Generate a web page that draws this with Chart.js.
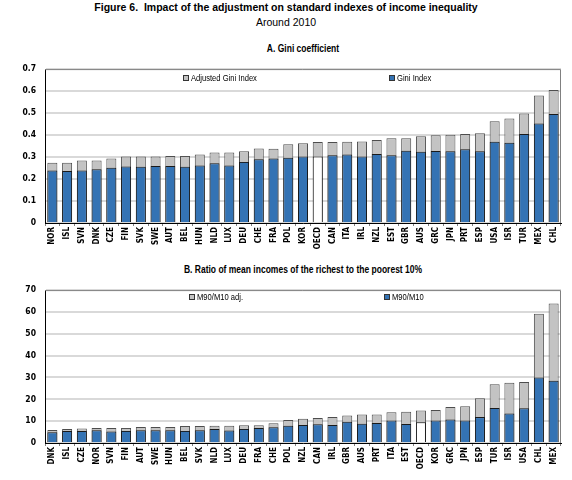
<!DOCTYPE html>
<html>
<head>
<meta charset="utf-8">
<script src="https://cdn.jsdelivr.net/npm/chart.js@4.4.0/dist/chart.umd.min.js"></script>
<style>
  body { margin: 0; width: 572px; height: 480px; background: #fff; position: relative; overflow: hidden;
         font-family: "Liberation Sans", Arial, sans-serif; color: #000; }
  .t { position: absolute; left: 0; width: 572px; text-align: center; white-space: nowrap; }
  #fig { top: 1px; font-size: 10.5px; font-weight: bold; }
  #sub { top: 16px; font-size: 10.5px; }
  /* narrow bold panel titles */
  .pt { font-weight: bold; font-size: 10.5px; left: 45px; width: 516px; transform: scaleX(0.81); transform-origin: 258px 0; }
  #ta { top: 42px; }
  #tb { top: 263px; }
  .wrap { position: absolute; left: 0; width: 572px; }
  #wa { top: 55px; height: 205px; }
  #wb { top: 276px; height: 204px; }
</style>
</head>
<body>
<div class="t" id="fig">Figure 6.&nbsp; Impact of the adjustment on standard indexes of income inequality</div>
<div class="t" id="sub">Around 2010</div>
<div class="t pt" id="ta">A. Gini coefficient</div>
<div class="t pt" id="tb">B. Ratio of mean incomes of the richest to the poorest 10%</div>
<div class="wrap" id="wa"><canvas id="chartA"></canvas></div>
<div class="wrap" id="wb"><canvas id="chartB"></canvas></div>

<script>
// Panel A: Gini coefficient
const giniCountries = ['NOR', 'ISL', 'SVN', 'DNK', 'CZE', 'FIN', 'SVK', 'SWE', 'AUT', 'BEL', 'HUN', 'NLD',
    'LUX', 'DEU', 'CHE', 'FRA', 'POL', 'KOR', 'OECD', 'CAN', 'ITA', 'IRL', 'NZL', 'EST', 'GBR', 'AUS',
    'GRC', 'JPN', 'PRT', 'ESP', 'USA', 'ISR', 'TUR', 'MEX', 'CHL'];
const giniIndex = [0.239, 0.236, 0.239, 0.244, 0.251, 0.257, 0.256, 0.259, 0.259, 0.256, 0.262, 0.272,
    0.262, 0.278, 0.290, 0.293, 0.297, 0.302, 0.303, 0.308, 0.312, 0.302, 0.314, 0.308, 0.329, 0.324,
    0.327, 0.326, 0.335, 0.326, 0.369, 0.365, 0.405, 0.453, 0.496];
const giniAdjusted = [0.274, 0.274, 0.284, 0.284, 0.293, 0.303, 0.303, 0.303, 0.305, 0.305, 0.312, 0.321,
    0.321, 0.326, 0.339, 0.338, 0.358, 0.363, 0.368, 0.368, 0.369, 0.371, 0.377, 0.386, 0.386, 0.395,
    0.399, 0.401, 0.405, 0.408, 0.463, 0.475, 0.498, 0.580, 0.605];

// Panel B: ratio M90/M10
const ratioCountries = ['DNK', 'ISL', 'CZE', 'NOR', 'SVN', 'FIN', 'AUT', 'SWE', 'HUN', 'BEL', 'SVK', 'NLD',
    'LUX', 'DEU', 'FRA', 'CHE', 'POL', 'NZL', 'CAN', 'IRL', 'GBR', 'AUS', 'PRT', 'ITA', 'EST', 'OECD',
    'KOR', 'GRC', 'JPN', 'ESP', 'TUR', 'ISR', 'USA', 'CHL', 'MEX'];
const ratioIndex = [4.95, 5.55, 5.55, 5.85, 5.25, 5.55, 5.85, 5.85, 5.85, 5.55, 5.85, 6.45,
    5.7, 6.45, 6.9, 7.2, 7.9, 8.25, 8.55, 8.25, 9.75, 8.85, 9.15, 10.35, 8.7, 9.45,
    10.35, 10.8, 10.35, 11.85, 16.05, 13.5, 15.9, 30.0, 28.5];
const ratioAdjusted = [6.0, 6.45, 6.6, 6.9, 6.9, 6.9, 7.35, 7.35, 7.35, 7.8, 7.8, 7.95,
    7.95, 8.1, 8.1, 9.0, 10.55, 11.1, 11.4, 11.85, 12.6, 13.05, 13.05, 14.1, 14.25, 14.85,
    15.15, 16.5, 16.8, 20.5, 26.85, 27.6, 27.9, 59.2, 63.9];

const BLUE = '#3473b4';
const GREY = '#c3c3c3';
const TICKFONT = '"DejaVu Sans Condensed", "Liberation Sans", sans-serif';

// draws the legend inside the plot area and the grey frame on top/right
const framePlugin = {
    id: 'frameAndLegend',
    afterDraw(chart, args, opts) {
        const { ctx, chartArea } = chart;
        ctx.save();
        ctx.strokeStyle = '#808080';
        ctx.lineWidth = 1;
        ctx.beginPath();
        ctx.moveTo(chartArea.left, chartArea.top + 0.5);
        ctx.lineTo(chartArea.right - 0.5, chartArea.top + 0.5);
        ctx.lineTo(chartArea.right - 0.5, chartArea.bottom);
        ctx.stroke();

        (opts.items || []).forEach(it => {
            const ds = chart.data.datasets[it.ds];
            const x = Math.round(chartArea.left + chartArea.width * it.at);
            const y = Math.round(chartArea.top + opts.dy);
            ctx.fillStyle = ds.legendColor;
            ctx.fillRect(x, y - 3, 6, 6);
            ctx.strokeStyle = '#333';
            ctx.strokeRect(x + 0.5, y - 2.5, 5, 5);
            // squeeze the text to look like a narrow face
            ctx.save();
            ctx.translate(x + 8, y + 0.5);
            ctx.scale(0.8, 1);
            ctx.font = '9.5px "Liberation Sans", Arial, sans-serif';
            ctx.textBaseline = 'middle';
            ctx.fillStyle = '#000';
            ctx.fillText(ds.label, 0, 0);
            ctx.restore();
        });
        ctx.restore();
    }
};

function makeChart(canvas, labels, base, adjusted, names, legendAt, legendDy, yMax, yStep, xHeight) {
    const baseColors = labels.map(l => l === 'OECD' ? '#ffffff' : BLUE);
    return new Chart(canvas.getContext('2d'), {
        type: 'bar',
        data: {
            labels: labels,
            datasets: [
                {
                    label: names[0],
                    data: adjusted,
                    backgroundColor: GREY,
                    borderColor: '#4d4d4d',
                    borderWidth: 1,
                    legendColor: GREY,
                    order: 2
                },
                {
                    label: names[1],
                    data: base,
                    backgroundColor: baseColors,
                    borderColor: '#1a1a1a',
                    borderWidth: 1,
                    legendColor: BLUE,
                    order: 1
                }
            ]
        },
        options: {
            responsive: true,
            maintainAspectRatio: false,
            animation: false,
            datasets: { bar: { grouped: false, barPercentage: 0.68, categoryPercentage: 1 } },
            layout: { padding: { top: 2, right: 11, left: 0, bottom: 0 } },
            plugins: {
                legend: { display: false },
                tooltip: { enabled: false },
                frameAndLegend: { dy: legendDy, items: [{ ds: 0, at: legendAt[0] }, { ds: 1, at: legendAt[1] }] }
            },
            scales: {
                x: {
                    grid: { display: true, drawOnChartArea: false, offset: true, tickLength: 3, color: '#808080' },
                    border: { color: '#000', width: 1 },
                    ticks: {
                        color: '#000',
                        font: { family: TICKFONT, size: 8, weight: 'bold' },
                        minRotation: 90,
                        maxRotation: 90,
                        autoSkip: false,
                        padding: 1
                    },
                    afterFit: s => { s.height = xHeight; }
                },
                y: {
                    min: 0,
                    max: yMax,
                    grid: { color: '#d9d9d9', lineWidth: 2, drawTicks: false },
                    border: { color: '#000', width: 1 },
                    ticks: {
                        stepSize: yStep,
                        color: '#000',
                        font: { family: TICKFONT, size: 8.5, weight: 'bold' },
                        padding: 9
                    },
                    afterFit: s => { s.width = 45; }
                }
            }
        },
        plugins: [framePlugin]
    });
}

makeChart(document.getElementById('chartA'), giniCountries, giniIndex, giniAdjusted,
    ['Adjusted Gini Index', 'Gini Index'], [0.268, 0.667], 9, 0.7, 0.1, 37);
makeChart(document.getElementById('chartB'), ratioCountries, ratioIndex, ratioAdjusted,
    ['M90/M10 adj.', 'M90/M10'], [0.279, 0.657], 7, 70, 10, 37);
</script>
</body>
</html>
